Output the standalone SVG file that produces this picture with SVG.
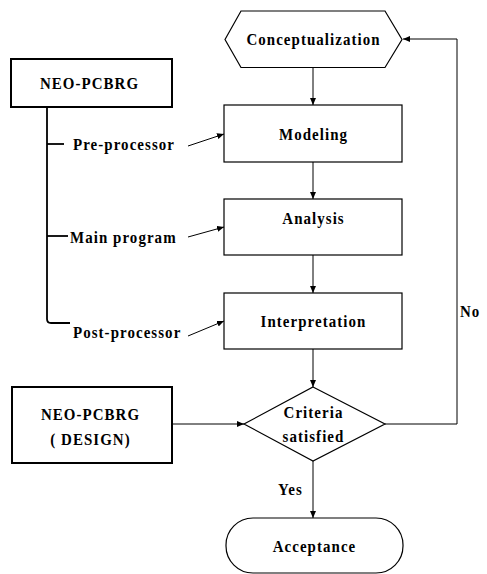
<svg xmlns="http://www.w3.org/2000/svg" width="487" height="574" viewBox="0 0 487 574">
<style>
.t{font-family:"Liberation Serif","Times New Roman",serif;font-weight:bold;font-size:17px;letter-spacing:1.2px;fill:#000}
.m{text-anchor:middle}
.box{fill:#fff;stroke:#000;stroke-width:1.2}
.thick{fill:#fff;stroke:#000;stroke-width:2}
.ln{fill:none;stroke:#000;stroke-width:1}
.br{fill:none;stroke:#000;stroke-width:1.8}
</style>
<defs>
<marker id="ah" markerWidth="8" markerHeight="6" refX="7" refY="3" orient="auto" markerUnits="userSpaceOnUse">
<path d="M0,0 L7,3 L0,6 Z" fill="#000"/>
</marker>
</defs>
<rect width="487" height="574" fill="#fff"/>
<g id="connectors">
<line class="ln" x1="313" y1="68" x2="313" y2="105" marker-end="url(#ah)"/>
<line class="ln" x1="313" y1="162" x2="313" y2="199" marker-end="url(#ah)"/>
<line class="ln" x1="313" y1="255" x2="313" y2="293" marker-end="url(#ah)"/>
<line class="ln" x1="313" y1="349" x2="313" y2="387" marker-end="url(#ah)"/>
<line class="ln" x1="313" y1="461" x2="313" y2="518" marker-end="url(#ah)"/>
<line class="ln" x1="172" y1="424" x2="244" y2="424" marker-end="url(#ah)"/>
<path class="ln" d="M385,424 H457 V39 H403" marker-end="url(#ah)"/>
<path class="br" d="M47,107 V319 Q47,323 51,323 H70"/>
<line class="br" x1="47" y1="144" x2="64" y2="144"/>
<line class="br" x1="47" y1="236" x2="68" y2="236"/>
<line class="ln" x1="188" y1="146" x2="224" y2="134" marker-end="url(#ah)"/>
<line class="ln" x1="188" y1="237" x2="224" y2="227" marker-end="url(#ah)"/>
<line class="ln" x1="188" y1="336" x2="224" y2="321" marker-end="url(#ah)"/>
<text class="t" transform="translate(460,317) scale(0.88,1)">No</text>
<text class="t" transform="translate(278,495) scale(0.88,1)">Yes</text>
<text class="t" transform="translate(73,150) scale(0.88,1)">Pre-processor</text>
<text class="t" transform="translate(70,243) scale(0.88,1)">Main program</text>
<text class="t" transform="translate(73,338) scale(0.88,1)">Post-processor</text>
</g>
<g id="conceptualization">
<polygon class="box" points="225,39.5 241,11 385,11 402,39.5 385,67.5 241,67.5"/>
<text class="t m" transform="translate(313.5,45) scale(0.88,1)">Conceptualization</text>
</g>
<g id="neo-pcbrg">
<rect class="thick" x="11" y="59" width="161" height="48"/>
<text class="t m" transform="translate(89.5,89) scale(0.88,1)">NEO-PCBRG</text>
</g>
<g id="modeling">
<rect class="box" x="224" y="105" width="178" height="57"/>
<text class="t m" transform="translate(313.5,140) scale(0.88,1)">Modeling</text>
</g>
<g id="analysis">
<rect class="box" x="224" y="199" width="178" height="56"/>
<text class="t m" transform="translate(313.5,224) scale(0.88,1)">Analysis</text>
</g>
<g id="interpretation">
<rect class="box" x="224" y="293" width="178" height="56"/>
<text class="t m" transform="translate(313.5,327) scale(0.88,1)">Interpretation</text>
</g>
<g id="neo-pcbrg-design">
<rect class="thick" x="12" y="387" width="160" height="76"/>
<text class="t m" transform="translate(90.5,420) scale(0.88,1)">NEO-PCBRG</text>
<text class="t m" transform="translate(90.5,445) scale(0.88,1)">( DESIGN)</text>
</g>
<g id="criteria">
<polygon class="box" points="313,387 385,424 313,461 244,424"/>
<text class="t m" transform="translate(313.5,418) scale(0.88,1)">Criteria</text>
<text class="t m" transform="translate(313.5,442) scale(0.88,1)">satisfied</text>
</g>
<g id="acceptance">
<rect class="box" x="226" y="518" width="177" height="55" rx="27" ry="27"/>
<text class="t m" transform="translate(314.5,552) scale(0.88,1)">Acceptance</text>
</g>
</svg>
